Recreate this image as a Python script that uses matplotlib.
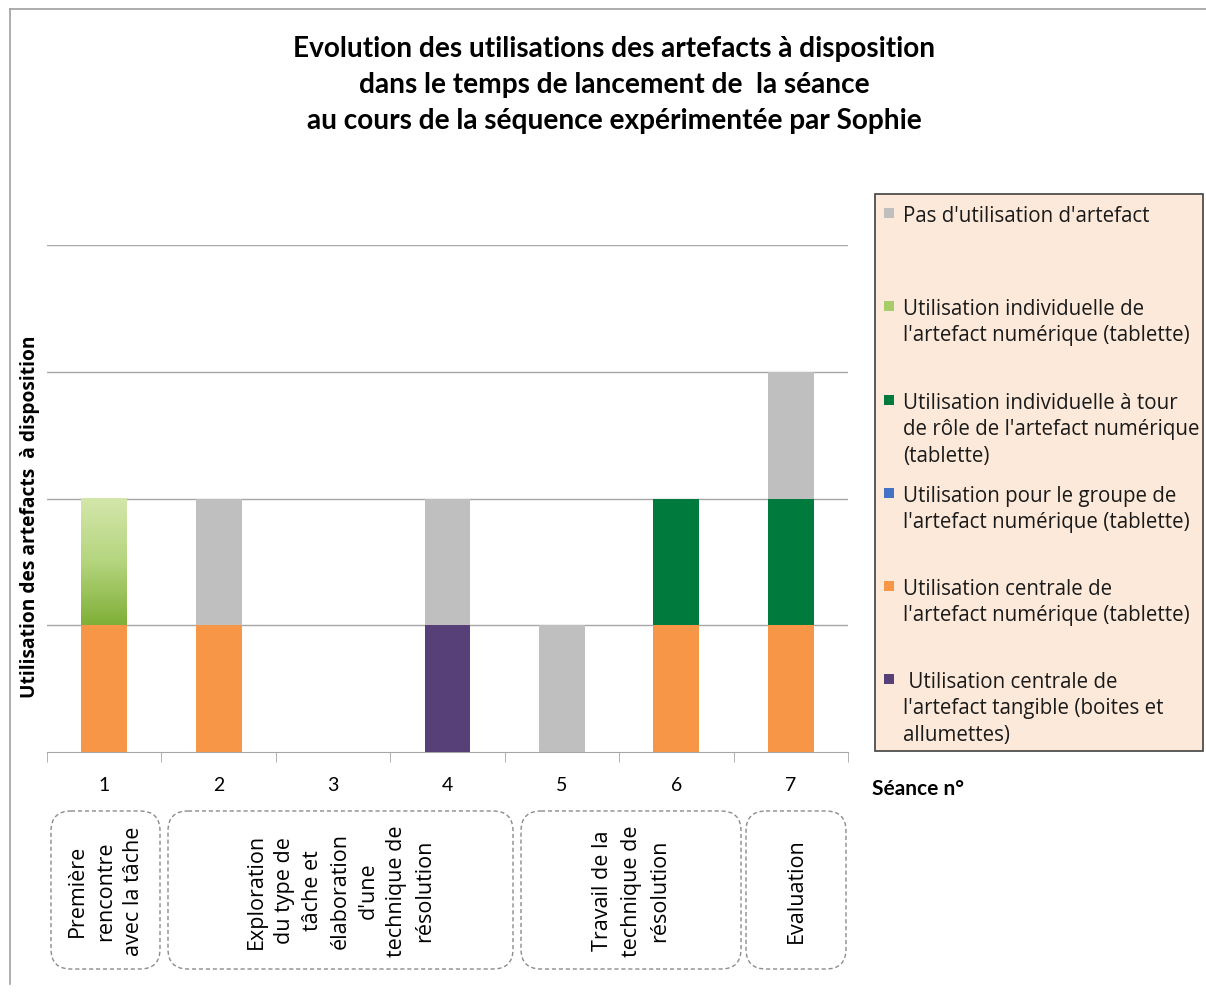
import matplotlib
matplotlib.use('Agg')
import numpy as np
from matplotlib import pyplot as plt
from matplotlib.patches import FancyBboxPatch, Rectangle
from matplotlib.colors import LinearSegmentedColormap

# données
seances = [1, 2, 3, 4, 5, 6, 7]
central_num = [1, 1, 0, 0, 0, 1, 1]
central_tang = [0, 0, 0, 1, 0, 0, 0]
groupe = [0, 0, 0, 0, 0, 0, 0]
tour_role = [0, 0, 0, 0, 0, 1, 1]
indiv = [1, 0, 0, 0, 0, 0, 0]
pas_util = [0, 1, 0, 1, 1, 0, 1]

legend_labels = [
    "Pas d'utilisation d'artefact",
    "Utilisation individuelle de\nl'artefact numérique (tablette)",
    "Utilisation individuelle à tour\nde rôle de l'artefact numérique\n(tablette)",
    "Utilisation pour le groupe de\nl'artefact numérique (tablette)",
    "Utilisation centrale de\nl'artefact numérique (tablette)",
    " Utilisation centrale de\nl'artefact tangible (boites et\nallumettes)",
]
phases = [
    "Première\nrencontre\navec la tâche",
    "Exploration\ndu type de\ntâche et\nélaboration\nd'une\ntechnique de\nrésolution",
    "Travail de la\ntechnique de\nrésolution",
    "Evaluation",
]

c_orange = '#F79646'
c_purple = '#573F78'
c_blue = '#4472C4'
c_dgreen = '#007A3D'
c_lgreen = '#A9CC6A'
c_gray = '#BFBFBF'

W, H = 1206, 995
fig = plt.figure(figsize=(W / 100, H / 100), dpi=100)

# axe "pixels" pour les éléments de mise en page (cadre, légende, phases)
pax = fig.add_axes([0, 0, 1, 1], zorder=0)
pax.set_xlim(0, W)
pax.set_ylim(H, 0)
pax.axis('off')

ax = fig.add_axes([47 / W, 1 - 753 / H, 801 / W, 507 / H], zorder=1)
ax.patch.set_alpha(0)

bw = 0.4
bottom = np.zeros(7)
series = [(central_num, c_orange), (central_tang, c_purple), (groupe, c_blue),
          (tour_role, c_dgreen), (indiv, c_lgreen), (pas_util, c_gray)]
gradient_bars = None
for vals, col in series:
    bars = ax.bar(seances, vals, bw, bottom=bottom, color=col, zorder=3)
    if col == c_lgreen:
        gradient_bars = bars
    bottom = bottom + np.array(vals)

# dégradé vert clair
grad = np.linspace(0, 1, 100).reshape(-1, 1)
cmap_g = LinearSegmentedColormap.from_list('g', ['#7FAF38', '#B5D57E', '#D3E6AA'])
for b in gradient_bars:
    if b.get_height() > 0:
        x0, y0 = b.get_x(), b.get_y()
        ax.imshow(grad, cmap=cmap_g, origin='lower', aspect='auto', zorder=4,
                  extent=(x0, x0 + b.get_width(), y0, y0 + b.get_height()))

ax.set_xlim(0.5, 7.5)
ax.set_ylim(0, 4)
ax.set_yticks([1, 2, 3, 4])
ax.yaxis.grid(True, color='#A6A6A6', linewidth=1)
ax.tick_params(axis='y', left=False, labelleft=False)
for s in ['top', 'right', 'left']:
    ax.spines[s].set_visible(False)
ax.spines['bottom'].set_color('#A6A6A6')
ax.set_xticks(seances)
ax.set_xticklabels([str(s) for s in seances], fontsize=14, family=['Lato', 'DejaVu Sans'])
ax.tick_params(axis='x', length=0, pad=17)
ax.set_xticks(np.arange(0.5, 8, 1), minor=True)
ax.tick_params(axis='x', which='minor', length=7, color='#A6A6A6')
ax.set_axisbelow(True)

pax.text(30, 517, 'Utilisation des artefacts  à disposition', rotation=90, ha='center', va='center',
         fontsize=13.8, fontweight='bold', family=['Open Sans', 'DejaVu Sans'])

pax.text(614, 85, 'Evolution des utilisations des artefacts à disposition\n'
         'dans le temps de lancement de  la séance\n'
         'au cours de la séquence expérimentée par Sophie',
         ha='center', va='center', fontsize=20.2, fontweight='bold', linespacing=1.5,
         family=['Lato', 'DejaVu Sans'])

pax.text(872, 789, 'Séance n°', ha='left', va='center', fontsize=15, fontweight='bold',
         family=['Lato', 'DejaVu Sans'])

# cadre extérieur
pax.plot([10, W], [10, 10], color='#A0A0A0', lw=1.2)
pax.plot([10, 10], [10, 985], color='#A0A0A0', lw=1.2)

# légende
pax.add_patch(Rectangle((875, 195), 328, 557, facecolor='#FCE9DA', edgecolor='#404040', lw=1.2))
leg_colors = [c_gray, c_lgreen, c_dgreen, c_blue, c_orange, c_purple]
leg_y = [215, 308, 402, 495, 588, 681]
for lab, col, y in zip(legend_labels, leg_colors, leg_y):
    pax.add_patch(Rectangle((884, y - 6), 10, 10, facecolor=col, edgecolor='none'))
    pax.text(903, y - 9, lab, ha='left', va='top', fontsize=14.8, linespacing=1.33,
             family=['Open Sans', 'DejaVu Sans'], color='#1a1a1a')

# phases
boxes = [(51, 160), (168, 513), (521, 741), (746, 846)]
for (x0, x1), txt in zip(boxes, phases):
    pax.add_patch(FancyBboxPatch((x0, 812), x1 - x0, 158,
                                 boxstyle='round,pad=0,rounding_size=20',
                                 facecolor='none', edgecolor='#8C8C8C', lw=1, ls=(0, (3, 2))))
    pax.text((x0 + x1) / 2, 891, txt, rotation=90, ha='center', va='center',
             multialignment='center', fontsize=15.5, linespacing=1.45,
             family=['Open Sans', 'DejaVu Sans'])

fig.savefig('out.png', dpi=100)
